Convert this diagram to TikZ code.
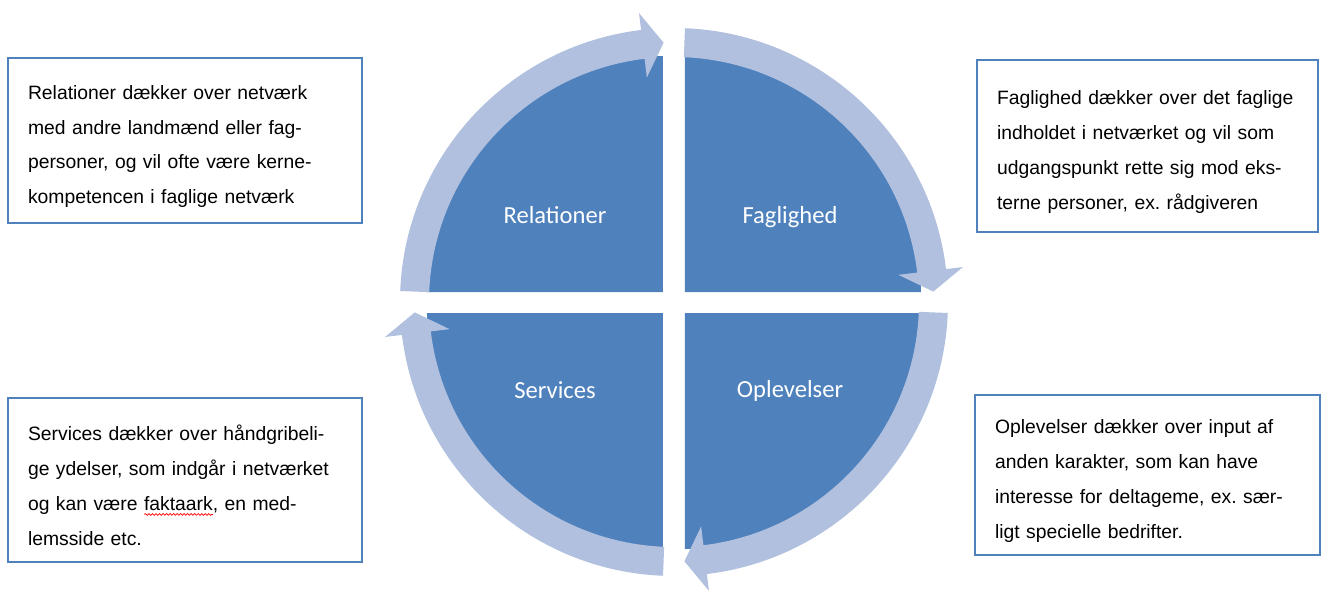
\documentclass[tikz,border=0pt]{standalone}
\usepackage{fontspec}
\setmainfont{Liberation Sans}
\newfontfamily\quadfont{Carlito}
\usetikzlibrary{decorations.pathmorphing}
\definecolor{quadblue}{RGB}{79,129,189}
\definecolor{ringblue}{RGB}{176,192,222}
\definecolor{boxblue}{RGB}{79,129,189}
\newlength{\swlen}
\newcommand{\spellwave}[1]{\settowidth{\swlen}{#1}\rlap{\raisebox{-3pt}{\tikz\draw[red,line width=0.4pt,decorate,
  decoration={snake,amplitude=0.5pt,segment length=2pt}] (0pt,0pt) -- (\swlen,0pt);}}#1}

\begin{document}
\begin{tikzpicture}[
  x=0.02cm, y=0.02cm,
  quad/.style={fill=quadblue},
  ring/.style={fill=ringblue},
  lbl/.style={font=\quadfont\fontsize{14}{16}\selectfont, text=white},
  infobox/.style 2 args={
    draw=boxblue,
    line width=1.1pt,
    text width=#1,
    minimum height=#2,
    inner xsep=0.4cm,
    align=left,
    execute at begin node={\rule{0pt}{0.52cm}},
    font=\fontsize{11}{19.9}\selectfont\frenchspacing}]
  % fix the canvas
  \useasboundingbox (-674,-287) rectangle (648,302);
  % draw the four quarter discs
  \foreach \a/\cx/\cy in {180/-11/10, 90/11/10, 0/11/-11, -90/-11/-11}
    \fill[quad] (\cx,\cy) -- ++(\a:236) arc[start angle=\a, end angle=\a-90, radius=236] -- cycle;
  % draw the ring arrows
  \foreach \a in {180,90,0,-90} {
    \pgfmathsetmacro{\s}{\a-2.3}
    \pgfmathsetmacro{\b}{\a-83.1}
    \pgfmathsetmacro{\t}{\a-87.7}
    \fill[ring] (\s:274) arc[start angle=\s, end angle=\b, radius=274]
      -- (\b:291) -- (\t:259.5) -- (\b:226) -- (\b:245)
      arc[start angle=\b, end angle=\s, radius=245] -- cycle;
  }
  % draw the quadrant labels
  \node[lbl] (relations) at (-119,87) {Relationer};
  \node[lbl] (subject) at (116,85) {Faglighed};
  \node[lbl] (services) at (-119,-88) {Services};
  \node[lbl] (experiences) at (116,-89) {Oplevelser};
  % draw the explanation boxes
  \node[infobox={6.28cm}{3.3cm}] (relbox) at (-489,161.5)
    {Relationer dækker over netværk\\ med andre landmænd eller fag-\\ personer, og vil ofte være kerne-\\ kompetencen i faglige netværk};
  \node[infobox={6.02cm}{3.44cm}] (subjbox) at (473.5,156)
    {Faglighed dækker over det faglige\\ indholdet i netværket og vil som\\ udgangspunkt rette sig mod eks-\\ terne personer, ex. rådgiveren};
  \node[infobox={6.28cm}{3.28cm}] (servbox) at (-489,-178)
    {Services dækker over håndgribeli-\\ ge ydelser, som indgår i netværket\\ og kan være \spellwave{faktaark}, en med-\\ lemsside etc.};
  \node[infobox={6.1cm}{3.2cm}] (expbox) at (473.5,-173)
    {Oplevelser dækker over input af\\ anden karakter, som kan have\\ interesse for deltageme, ex. sær-\\ ligt specielle bedrifter.};
\end{tikzpicture}
\end{document}
